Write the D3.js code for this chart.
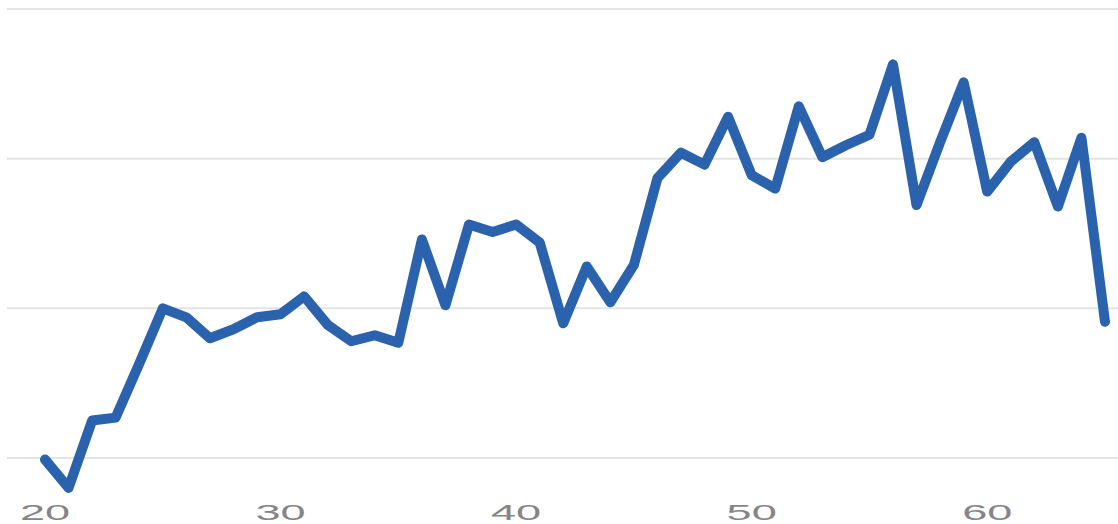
<!DOCTYPE html>
<html>
<head>
<meta charset="utf-8">
<script src="https://cdn.jsdelivr.net/npm/d3@7"></script>
<style>
  html, body { margin: 0; padding: 0; background: #fff; }
  svg { display: block; }
</style>
</head>
<body>
<svg id="chart" width="1118" height="524"></svg>
<script>
const ages = d3.range(20, 66);
const values = [
  9.9, 8.0, 12.5, 12.7, 16.3, 20.0, 19.4, 18.0, 18.6, 19.4,
  19.6, 20.8, 18.9, 17.8, 18.2, 17.7, 24.6, 20.2, 25.6, 25.1,
  25.6, 24.4, 19.0, 22.8, 20.4, 22.9, 28.7, 30.4, 29.6, 32.8,
  28.9, 28.0, 33.5, 30.1, 30.9, 31.6, 36.3, 26.9, 31.1, 35.1,
  27.8, 29.8, 31.1, 26.8, 31.4, 19.1
];
const xTicks = [20, 30, 40, 50, 60];
const yGrid = [10, 20, 30, 40];

const svg = d3.select("#chart");
const x = d3.scaleLinear().domain([20, 65]).range([45, 1105]);
const y = d3.scaleLinear().domain([10, 40]).range([458, 9]);

// gridlines
svg.append("g")
  .selectAll("line")
  .data(yGrid)
  .join("line")
  .attr("x1", 7).attr("x2", 1118)
  .attr("y1", d => y(d)).attr("y2", d => y(d))
  .attr("stroke", "#e4e4e4")
  .attr("stroke-width", 2);

// x axis labels (stretched look)
svg.append("g")
  .selectAll("text")
  .data(xTicks)
  .join("text")
  .attr("transform", d => `translate(${x(d)},520) scale(2.05,1)`)
  .attr("text-anchor", "middle")
  .attr("font-family", "'Liberation Sans', Arial, sans-serif")
  .attr("font-size", 22)
  .attr("fill", "#858585")
  .text(d => d);

// line
const line = d3.line()
  .x((d, i) => x(ages[i]))
  .y(d => y(d));

svg.append("path")
  .datum(values)
  .attr("d", line)
  .attr("fill", "none")
  .attr("stroke", "#2a62ae")
  .attr("stroke-width", 10)
  .attr("stroke-linejoin", "round")
  .attr("stroke-linecap", "round");
</script>
</body>
</html>
